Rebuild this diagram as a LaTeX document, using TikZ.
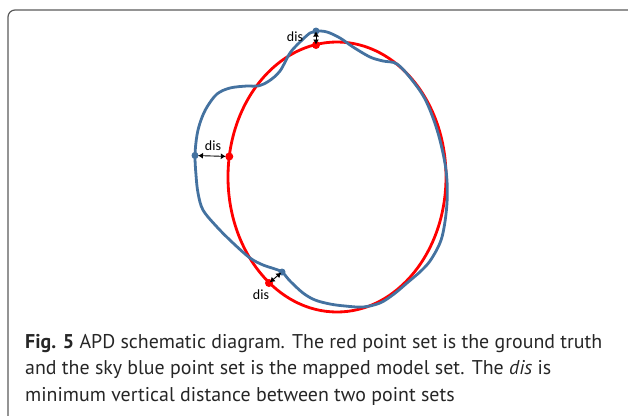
\documentclass[tikz,border=0pt]{standalone}
\usepackage{fontspec}
\setmainfont{PT Sans}
\newfontfamily\labelfont{Carlito}
\usetikzlibrary{arrows.meta}
\definecolor{skyb}{RGB}{68,114,160}
\definecolor{gtred}{RGB}{255,0,0}
\definecolor{framegray}{RGB}{90,90,90}
\tikzset{
  redline/.style={draw=gtred, line width=2.8pt},
  blueline/.style={draw=skyb, line width=2.8pt},
  reddot/.style={circle, fill=gtred, inner sep=0pt, minimum size=8pt},
  bluedot/.style={circle, fill=skyb, inner sep=0pt, minimum size=7pt},
  disarrow/.style={{Latex[length=5pt,width=6pt]}-{Latex[length=5pt,width=6pt]}, line width=0.9pt, black},
  dislabel/.style={font=\labelfont\fontsize{14}{14}\selectfont, inner sep=0pt},
  capline/.style={anchor=base west, inner sep=0pt, font=\fontsize{19.9}{20}\selectfont, text=black!85}
}
\begin{document}
\begin{tikzpicture}[x=1pt,y=-1pt]
\useasboundingbox (0,0) rectangle (628,415);
\clip (0,0) rectangle (628,415);
\draw[framegray, line width=1.2pt, rounded corners=7pt] (8,10) rectangle (660,440);
% red ground truth
\draw[redline] (337,177) ellipse [x radius=109pt, y radius=135pt];
% blue mapped model
\draw[blueline] plot[smooth cycle, tension=0.55] coordinates {
(316,31) (327,32) (340,38) (353,47) (370,57) (383,61) (397,64)
(412,80) (426,101) (438,133) (446,170) (447,203) (442,237) (432,258) (422,270)
(407,283) (394,294) (380,303) (363,307) (345,306) (330,304) (315,300) (303,293) (290,281)
(282,272) (272,268) (263,265) (250,258) (233,243) (217,227) (203,210) (198,193) (196,175)
(195,155) (197,135) (201,120) (207,107) (217,94) (230,88) (247,86) (258,86) (269,81)
(280,71) (290,53) (300,42) (310,33)};
% dots
\node[reddot] (r1) at (316,45) {};
\node[reddot] (r2) at (229.3,156.5) {};
\node[reddot] (r3) at (269,283) {};
\node[bluedot] (b1) at (316,31) {};
\node[bluedot] (b2) at (195,155.5) {};
\node[bluedot] (b3) at (282,272) {};
% distance arrows
\draw[disarrow, shorten <=0.5pt, shorten >=0.5pt] (b1.center) -- (r1.center);
\draw[disarrow, shorten <=3pt, shorten >=3.5pt] (b2.center) -- (r2.center);
\draw[disarrow, shorten <=1pt, shorten >=1pt] (r3.center) -- (b3.center);
\node[dislabel] (l1) at (295,37) {dis};
\node[dislabel] (l2) at (213,146) {dis};
\node[dislabel] (l3) at (261,295) {dis};
% caption
\node[capline] (c1) at (25,348) {\textbf{Fig. 5} APD schematic diagram. The red point set is the ground truth};
\node[capline] (c2) at (25,374.5) {and the sky blue point set is the mapped model set. The \textit{dis} is};
\node[capline] (c3) at (25,401) {minimum vertical distance between two point sets};
\end{tikzpicture}
\end{document}
